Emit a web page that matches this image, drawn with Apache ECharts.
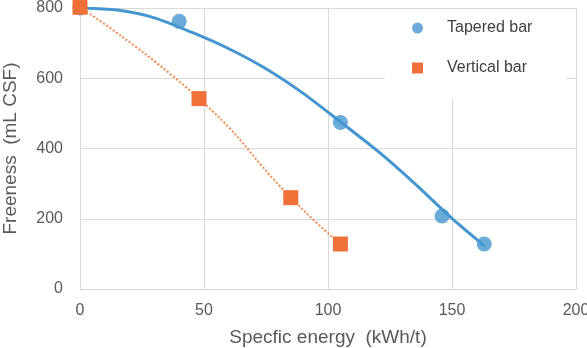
<!DOCTYPE html>
<html>
<head>
<meta charset="utf-8">
<script src="https://cdn.jsdelivr.net/npm/echarts@6/dist/echarts.min.js"></script>
<style>html,body{margin:0;padding:0;background:#fff;}#c{width:587px;height:348px;}</style>
</head>
<body>
<div id="c"></div>
<script>
// Data
const taperedEnergy = [0, 40, 105, 146, 163];
const taperedFreeness = [800, 762, 474, 208, 128];
const verticalEnergy = [0, 48, 85, 105];
const verticalFreeness = [802, 542, 260, 128];
// Tapered bar trendline
const taperedTrendEnergy = [0, 15, 30, 45, 60, 75, 90, 105, 120, 135, 150, 163];
const taperedTrendFreeness = [800, 794, 772, 731, 684, 627, 557, 476, 393, 300, 201, 123];
const xTicks = [0, 50, 100, 150, 200];
const yTicks = [0, 200, 400, 600, 800];

const zip = (a, b) => a.map((v, i) => [v, b[i]]);
const blue = '#4596d0';
const orange = '#f0703a';
const textCol = '#595959';
const gridCol = '#d9d9d9';
const font = 'Liberation Sans, Arial, sans-serif';

const chart = echarts.init(document.getElementById('c'), null, {renderer: 'canvas'});
chart.setOption({
  animation: false,
  backgroundColor: '#fff',
  grid: {left: 80, right: 11, top: 8, bottom: 59, containLabel: false, outerBoundsMode: 'none'},
  xAxis: {
    type: 'value', min: xTicks[0], max: xTicks[xTicks.length - 1], interval: 50,
    name: 'Specfic energy  (kWh/t)', nameLocation: 'middle', nameGap: 39,
    nameTextStyle: {fontSize: 19, color: textCol, fontFamily: font},
    axisLine: {show: true, lineStyle: {color: gridCol, width: 1}},
    axisTick: {show: false},
    axisLabel: {fontSize: 16, color: textCol, fontFamily: font, margin: 14},
    splitLine: {show: true, lineStyle: {color: gridCol, width: 1}}
  },
  yAxis: {
    type: 'value', min: yTicks[0], max: yTicks[yTicks.length - 1], interval: 200,
    name: 'Freeness  (mL CSF)', nameLocation: 'middle', nameGap: 60, nameRotate: 90,
    nameTextStyle: {fontSize: 19, color: textCol, fontFamily: font},
    axisLine: {show: true, lineStyle: {color: gridCol, width: 1}},
    axisTick: {show: false},
    axisLabel: {fontSize: 16, color: textCol, fontFamily: font, margin: 17},
    splitLine: {show: true, lineStyle: {color: gridCol, width: 1}}
  },
  legend: {
    orient: 'vertical', left: 385, top: 9,
    padding: [11, 34, 22, 27],
    backgroundColor: '#fff',
    itemWidth: 11, itemHeight: 11, itemGap: 24,
    textStyle: {fontSize: 16, color: '#404040', fontFamily: font, padding: [0, 0, 0, 19], lineHeight: 16},
    itemStyle: {borderWidth: 0},
    data: [{name: 'Tapered bar', icon: 'circle'}, {name: 'Vertical bar', icon: 'rect'}]
  },
  series: [
    {
      name: 'Tapered trend', type: 'line', smooth: 0.25, showSymbol: false, symbol: 'none',
      data: zip(taperedTrendEnergy, taperedTrendFreeness),
      lineStyle: {color: blue, width: 3}, itemStyle: {color: blue}, z: 2, silent: true
    },
    {
      name: 'Tapered bar', type: 'scatter', symbol: 'circle', symbolSize: 15,
      data: zip(taperedEnergy, taperedFreeness),
      itemStyle: {color: blue}, z: 3, clip: false
    },
    {
      name: 'Vertical bar', type: 'line', smooth: 0.5, symbol: 'rect', symbolSize: 15, showAllSymbol: true,
      data: zip(verticalEnergy, verticalFreeness),
      lineStyle: {color: '#f4894f', width: 2, type: [2, 2]},
      itemStyle: {color: orange, borderWidth: 0}, z: 4, clip: false
    }
  ]
});
</script>
</body>
</html>
